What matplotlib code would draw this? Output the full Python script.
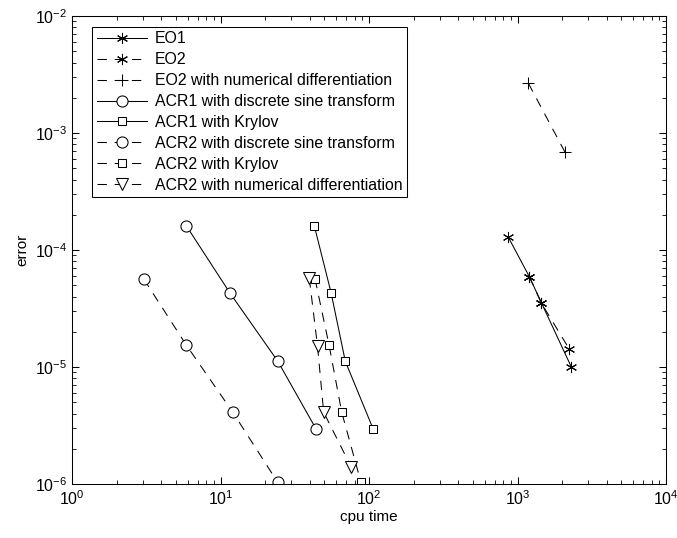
import numpy as np
import matplotlib
matplotlib.use("Agg")
import matplotlib.pyplot as plt
from matplotlib.ticker import LogLocator, NullFormatter

plt.rcParams['font.family'] = ['Liberation Sans', 'DejaVu Sans']
plt.rcParams['mathtext.fontset'] = 'custom'
plt.rcParams['mathtext.rm'] = 'Liberation Sans'

# data (cpu time, error)
eo1_t = [863, 1202, 1446, 2303]
eo1_e = [1.3e-4, 5.9e-5, 3.55e-5, 1.0e-5]

eo2_t = [1202, 1450, 2233]
eo2_e = [5.9e-5, 3.5e-5, 1.42e-5]

eo2_nd_t = [1183, 2089]
eo2_nd_e = [2.66e-3, 6.84e-4]

acr1_dst_t = [5.88, 11.6, 24.3, 44.0]
acr1_dst_e = [1.61e-4, 4.27e-5, 1.12e-5, 2.95e-6]

acr1_kry_t = [42.8, 55.5, 69.2, 106.4]
acr1_kry_e = [1.61e-4, 4.32e-5, 1.12e-5, 2.97e-6]

acr2_dst_t = [3.04, 5.88, 12.1, 24.3]
acr2_dst_e = [5.65e-5, 1.54e-5, 4.1e-6, 1.03e-6]

acr2_kry_t = [43.3, 53.8, 65.5, 88.3]
acr2_kry_e = [5.65e-5, 1.54e-5, 4.1e-6, 1.03e-6]

acr2_nd_t = [39.6, 45.0, 49.5, 75.6]
acr2_nd_e = [5.73e-5, 1.50e-5, 4.1e-6, 1.41e-6]

labels = ['EO1', 'EO2', 'EO2 with numerical differentiation',
          'ACR1 with discrete sine transform', 'ACR1 with Krylov',
          'ACR2 with discrete sine transform', 'ACR2 with Krylov',
          'ACR2 with numerical differentiation']

fig = plt.figure(figsize=(6.77, 5.38), dpi=100)
ax = fig.add_axes([0.1064, 0.1004, 0.8774, 0.8699])

dash = (0, (9, 7.5))
lw = 0.75
star = (6, 2, 0)
kw = dict(color='k', lw=lw, mec='k', mfc='w', mew=0.75)

ax.plot(eo1_t, eo1_e, ls='-', marker=star, ms=8, label=labels[0], **kw)
ax.plot(eo2_t, eo2_e, ls=dash, marker=star, ms=8, label=labels[1], **kw)
ax.plot(eo2_nd_t, eo2_nd_e, ls=dash, marker='+', ms=9, label=labels[2], **kw)
ax.plot(acr1_dst_t, acr1_dst_e, ls='-', marker='o', ms=8, label=labels[3], **kw)
ax.plot(acr1_kry_t, acr1_kry_e, ls='-', marker='s', ms=6, label=labels[4], **kw)
ax.plot(acr2_dst_t, acr2_dst_e, ls=dash, marker='o', ms=8, label=labels[5], **kw)
ax.plot(acr2_kry_t, acr2_kry_e, ls=dash, marker='s', ms=6, label=labels[6], **kw)
ax.plot(acr2_nd_t, acr2_nd_e, ls=dash, marker='v', ms=8, label=labels[7], **kw)

ax.set_xscale('log')
ax.set_yscale('log')
ax.set_xlim(1, 1e4)
ax.set_ylim(1e-6, 1e-2)

for axis in (ax.xaxis, ax.yaxis):
    axis.set_major_locator(LogLocator(base=10, numticks=10))
    axis.set_minor_locator(LogLocator(base=10, subs=np.arange(2, 10), numticks=20))
    axis.set_minor_formatter(NullFormatter())
ax.tick_params(which='both', direction='in', top=True, right=True, labelsize=11.5)
ax.tick_params(which='major', length=5, width=0.75)
ax.tick_params(which='minor', length=3, width=0.6)
for s in ax.spines.values():
    s.set_linewidth(0.75)

ax.set_xlabel('cpu time', fontsize=11, labelpad=2)
ax.set_ylabel('error', fontsize=11, labelpad=4)

leg = ax.legend(loc='upper left', bbox_to_anchor=(0.0337, 0.977), fontsize=11.4,
                numpoints=1, handlelength=3.2, handletextpad=0.45,
                labelspacing=0.37, borderpad=0.3, borderaxespad=0.0,
                fancybox=False, framealpha=1, edgecolor='k')
leg.get_frame().set_linewidth(0.75)

fig.savefig('out.png', dpi=100)
